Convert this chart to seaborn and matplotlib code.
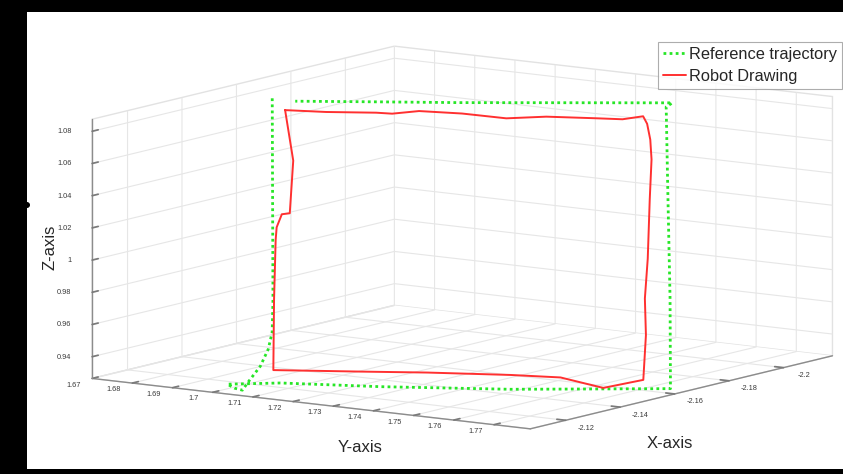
import matplotlib
matplotlib.use("Agg")
import matplotlib.pyplot as plt
import seaborn as sns
import pandas as pd
from matplotlib.patches import Rectangle, Ellipse
from mpl_toolkits.mplot3d import proj3d

# ---------------- data ----------------
ref_y = [1.6850, 1.6988, 1.7009, 1.7014, 1.7012, 1.7002, 1.6998, 1.6983, 1.6968,
         1.7058, 1.7231, 1.7455, 1.7727, 1.7665, 1.7589, 1.7528, 1.7536, 1.7172,
         1.7035, 1.6891]
ref_x = [-2.1510, -2.1309, -2.1275, -2.1253, -2.1227, -2.1197, -2.1182, -2.1175, -2.1171,
         -2.1233, -2.1345, -2.1492, -2.1678, -2.1768, -2.1872, -2.1956, -2.1967, -2.1722,
         -2.1630, -2.1534]
ref_z = [1.0868, 0.9739, 0.9556, 0.9461, 0.9366, 0.9277, 0.9232, 0.9243, 0.9265,
         0.9273, 0.9254, 0.9242, 0.9248, 0.9754, 1.0349, 1.0827, 1.0850, 1.0847,
         1.0850, 1.0852]

rob_y = [1.6880, 1.6951, 1.7037, 1.7065, 1.7109, 1.7184, 1.7263, 1.7330, 1.7417,
         1.7462, 1.7495, 1.7507, 1.7523, 1.7539, 1.7563, 1.7600, 1.7622, 1.7649,
         1.7675, 1.7612, 1.7532, 1.7445, 1.7301, 1.7186, 1.7037, 1.6990, 1.6952,
         1.6945, 1.6945, 1.6958, 1.6928, 1.6880]
rob_x = [-2.1513, -2.1559, -2.1616, -2.1633, -2.1667, -2.1714, -2.1760, -2.1808, -2.1864,
         -2.1893, -2.1920, -2.1917, -2.1905, -2.1886, -2.1844, -2.1782, -2.1739, -2.1703,
         -2.1655, -2.1601, -2.1562, -2.1507, -2.1413, -2.1337, -2.1238, -2.1310, -2.1372,
         -2.1386, -2.1405, -2.1415, -2.1472, -2.1513]
rob_z = [1.0802, 1.0792, 1.0789, 1.0784, 1.0799, 1.0786, 1.0760, 1.0770, 1.0762,
         1.0757, 1.0774, 1.0732, 1.0643, 1.0532, 1.0310, 0.9976, 0.9753, 0.9548,
         0.9297, 0.9251, 0.9309, 0.9322, 0.9334, 0.9338, 0.9345, 0.9739, 1.0073,
         1.0145, 1.0218, 1.0224, 1.0519, 1.0802]

x_ticks = [-2.20, -2.18, -2.16, -2.14, -2.12]
y_ticks = [1.67, 1.68, 1.69, 1.70, 1.71, 1.72, 1.73, 1.74, 1.75, 1.76, 1.77]
z_ticks = [0.94, 0.96, 0.98, 1.00, 1.02, 1.04, 1.06, 1.08]
x_lim = (-2.218, -2.107)
y_lim = (1.67, 1.779)
z_lim = (0.9265, 1.0875)

series_names = ["Reference trajectory", "Robot Drawing"]

ref = pd.DataFrame({"x": ref_x, "y": ref_y, "z": ref_z})
rob = pd.DataFrame({"x": rob_x, "y": rob_y, "z": rob_z})

# ---------------- style ----------------
sns.set_theme(style="white")
plt.rcParams["font.family"] = ["Liberation Sans", "DejaVu Sans"]
plt.rcParams["grid.color"] = "#e6e6e6"
plt.rcParams["grid.linewidth"] = 0.8
plt.rcParams["axes.edgecolor"] = "#8c8c8c"

green = "#27e627"
red = "#ff3030"
tick_col = "#3a3a3a"

W, H = 843, 474
fig = plt.figure(figsize=(W / 100, H / 100), dpi=100, facecolor="black")
fig.add_artist(Rectangle((27 / W, 5 / H), 816 / W, 457 / H, transform=fig.transFigure,
                         facecolor="white", edgecolor="none", zorder=-10))
fig.add_artist(Ellipse((27 / W, 1 - 205 / H), 6 / W, 6 / H, transform=fig.transFigure,
                       facecolor="black", edgecolor="none", zorder=-9))

S = 600
cx, cy = 454.2, 474 - 245.6
ax = fig.add_axes([(cx - S / 2) / W, (cy - S / 2) / H, S / W, S / H], projection="3d")
ax.set_facecolor("none")
ax.patch.set_alpha(0)
ax.set_proj_type("ortho")
ax.view_init(elev=9.6, azim=34.6)
ax.set_box_aspect((1, 1, 0.494), zoom=1.29)

ax.plot(ref["x"], ref["y"], ref["z"], color=green, lw=2.0, linestyle=(0, (1, 1.2)),
        label=series_names[0])
ax.plot(rob["x"], rob["y"], rob["z"], color=red, lw=1.4, label=series_names[1])

try:
    ax.set_xlim(*x_lim, view_margin=0)
    ax.set_ylim(*y_lim, view_margin=0)
    ax.set_zlim(*z_lim, view_margin=0)
except TypeError:
    ax.set_xlim(*x_lim)
    ax.set_ylim(*y_lim)
    ax.set_zlim(*z_lim)

ax.set_xticks(x_ticks)
ax.set_yticks(y_ticks)
ax.set_zticks(z_ticks)
ax.set_xticklabels([])
ax.set_yticklabels([])
ax.set_zticklabels([])
ax.tick_params(axis="both", color="#7a7a7a")
ax.tick_params(axis="z", color="#7a7a7a")

for axis in (ax.xaxis, ax.yaxis, ax.zaxis):
    axis.set_pane_color((1, 1, 1, 1))
    axis.pane.set_edgecolor("#e2e2e2")
    axis.line.set_color("#8c8c8c")
    axis.line.set_linewidth(1.0)
    axis._axinfo["tick"]["inward_factor"] = 0.0
    axis._axinfo["tick"]["outward_factor"] = 0.25

# tick labels: project their 3D anchor points with the axes' own projection
fig.canvas.draw()
M = ax.get_proj()


def label_at(x, y, z, s, ha):
    px, py, _ = proj3d.proj_transform(x, y, z, M)
    ax.text2D(px, py, s, transform=ax.transData, fontsize=5.3, color=tick_col,
              ha=ha, va="center")


for v in y_ticks:
    label_at(x_lim[1] + 0.0069, v, z_lim[0] - 0.0013, f"{v:g}", "center")
for v in x_ticks:
    label_at(v, y_lim[1] + 0.005, z_lim[0] - 0.0035, f"{v:g}", "center")
for v in z_ticks:
    label_at(x_lim[1] + 0.0076, y_lim[0], v + 0.0029, f"{v:g}", "right")

fig.text(360 / W, 1 - 448 / H, "Y-axis", fontsize=12, color="#262626", ha="center", va="center")
fig.text(670 / W, 1 - 443 / H, "X-axis", fontsize=12, color="#262626", ha="center", va="center")
fig.text(50 / W, 1 - 247 / H, "Z-axis", fontsize=12, color="#262626", ha="center", va="center",
         rotation=90)

leg = fig.legend(loc="upper left", bbox_to_anchor=(658 / W, 1 - 42 / H), fontsize=11.8,
                 frameon=True, fancybox=False, borderpad=0.3, labelspacing=0.42,
                 handlelength=1.4, handletextpad=0.2, borderaxespad=0)
leg.get_frame().set_edgecolor("#999999")
leg.get_frame().set_linewidth(0.8)

fig.savefig("out.png", dpi=100, facecolor=fig.get_facecolor())
